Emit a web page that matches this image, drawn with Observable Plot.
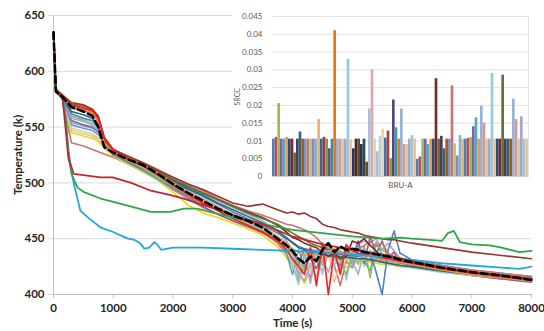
<!DOCTYPE html>
<html><head><meta charset="utf-8">
<script src="https://cdn.jsdelivr.net/npm/d3@7"></script>
<script src="https://cdn.jsdelivr.net/npm/@observablehq/plot@0.6"></script>
<style>
html,body{margin:0;padding:0;background:#fff;}
#wrap{position:relative;width:544px;height:331px;overflow:hidden;background:#fff;}
#inset{position:absolute;left:232px;top:0;width:312px;height:196px;background:#fff;}
</style></head><body>
<div id="wrap"><div id="main"></div><div id="inset"></div></div>
<script>
// ---------- main chart data ----------
const xTicks = [0,1000,2000,3000,4000,5000,6000,7000,8000];
const yTicks = [400,450,500,550,600,650];
const times = [0,40,150,300,500,650,750,850,1000,1250,1500,1750,2000,2250,2500,2750,3000,3250,3500,3750,3900,4000,4100,4200,4300,4400,4500,4600,4700,4800,4900,5000,5100,5200,5300,5400,5500,5600,5700,5800,6000,6500,7000,7500,8000];

const refCase = [635,582,577,568,564,560,550,532,527,521,516,508,499,491,484,477,471,466,460,450,444,439,432,428,434,430,440,446,438,443,440,441,440,438,437,436,435,434,433,431,429,424,420,417,413];
const runBrownTop = [635,584,579,572,570,566,560,540,530,524,518,511,505,499,494,488,482,479,481,476,473,474,472,473,470,468,463,461,460,458,457,456,455,453,452,451,450,449,449,448,446,442,438,435,432];
const runOrange = [634,581,576,568,566,563,556,536,528,522,516,509,500,492,485,478,472,466,460,452,446,441,438,436,434,437,440,439,441,438,437,437,436,435,434,433,432,431,430,429,427,422,418,415,412];
const runRed = [635,583,578,570,567,565,558,540,529,522,515,507,498,490,482,475,468,462,456,448,440,432,425,418,442,408,446,400,440,418,444,440,437,436,435,434,433,432,431,430,428,423,419,416,413];
const runBlue = [634,582,576,562,558,556,550,536,527,521,515,507,500,494,488,481,474,468,462,455,450,447,443,441,440,439,438,437,436,436,435,435,434,436,438,420,400,440,457,437,431,426,422,419,416];
const runGreen = [635,582,577,560,556,553,549,538,526,520,513,505,497,489,482,476,469,463,457,449,443,436,428,421,440,432,426,441,437,430,418,436,427,444,415,446,440,436,434,432,429,425,421,418,415];
const runPurple = [635,583,577,556,552,550,546,536,525,519,512,505,496,488,479,472,466,461,455,448,443,438,427,441,432,423,437,443,435,425,445,432,448,428,452,436,448,433,438,428,426,421,417,414,411];
const runAqua = [635,582,577,552,549,547,543,535,526,518,511,503,495,488,482,476,470,465,459,450,437,418,440,424,441,430,435,444,438,420,441,427,445,430,421,447,436,431,430,429,427,423,420,417,414];
const runSalmon = [635,582,575,536,533,530,528,526,523,517,510,503,494,486,478,472,466,461,456,446,436,425,412,428,415,432,420,438,426,408,430,424,436,430,432,431,430,429,428,427,425,421,418,416,413];
const runLightBlue = [635,582,577,558,555,552,547,537,527,521,516,509,502,496,490,484,478,472,466,457,448,440,415,436,410,437,428,441,434,422,444,430,418,441,433,432,431,429,428,427,425,421,418,416,414];
const runOlive = [634,583,578,571,569,566,559,541,530,523,517,510,503,497,491,485,479,473,468,463,458,455,452,449,446,444,442,440,439,438,437,436,436,435,434,433,432,431,430,429,427,423,420,417,414];
const runLightOrange = [635,582,576,549,546,544,540,532,525,519,513,506,498,490,483,476,470,464,458,450,441,430,422,434,418,440,429,437,411,429,440,437,436,435,434,433,432,431,430,429,427,423,420,417,415];
const runYellow = [635,582,576,545,542,540,537,531,524,517,510,502,492,480,473,469,464,459,453,443,433,425,418,410,422,430,436,434,433,432,431,431,430,430,429,428,427,427,426,425,424,420,417,414,412];
const runTeal = [635,582,577,564,561,558,552,537,528,522,517,510,502,495,489,482,476,470,464,457,451,446,442,440,438,437,436,435,434,434,433,433,432,432,431,430,429,428,427,426,425,421,418,415,412];
const runLavender = [635,582,576,554,551,549,545,535,526,520,514,507,499,492,486,479,471,465,458,449,440,432,420,412,428,415,433,420,437,431,435,434,445,448,446,450,440,446,439,433,430,425,421,418,415];
const runPink = [635,583,578,567,565,562,555,538,528,523,518,512,505,499,493,486,480,475,471,466,463,462,460,458,455,451,445,441,438,437,436,438,441,444,448,443,446,437,434,432,430,426,422,419,416];
const runLightGreen = [635,582,576,547,544,542,539,533,525,519,512,505,497,490,484,478,472,467,461,452,444,437,430,423,433,436,430,440,430,436,424,429,437,425,440,436,434,433,432,430,428,424,421,418,416];
const runLightAqua = [635,582,577,560,557,555,550,537,527,520,514,506,499,492,485,478,471,465,459,451,443,428,409,437,424,440,418,445,425,441,413,438,432,431,431,430,429,428,427,426,424,420,417,415,413];
const runMaroon = [635,583,578,569,567,564,557,539,529,523,517,510,503,497,491,485,479,474,469,462,456,451,449,446,444,442,438,434,437,432,434,448,446,450,444,439,434,432,431,430,428,424,420,417,414];

const cyanTimes = [0,40,150,200,250,300,350,450,600,790,1000,1120,1250,1350,1450,1520,1600,1690,1750,1800,2000,2500,3000,3500,4000,4500,5000,5500,6000,6500,7000,7500,7800,8000];
const cyanValues = [635,582,575,560,530,510,497,475,468,460,456,453,450,449,446,441,442,447,444,440,442,442,441,440,439,438,436,434,431,428,426,424,423,425];
const greenTimes = [0,40,150,200,250,300,400,500,790,1000,1350,1630,1960,2180,2400,2700,3000,3500,4000,4500,5000,5500,5800,6000,6300,6500,6600,6700,6800,7000,7300,7500,7800,8000];
const greenValues = [635,582,576,560,525,508,496,492,486,483,478,474,474,477,477,473,469,463,458,455,452,450,451,450,449,448,455,457,447,445,444,442,438,439];
const redTimes = [0,40,150,200,250,340,500,790,990,1300,1630,1960,2180,2460,2750,3000,3500,4000,4500,5000,5500,6000,6500,7000,7500,8000];
const redValues = [635,582,577,550,522,508,507,505,505,500,493,489,486,481,476,471,463,452,445,440,436,430,424,420,417,414];

const bundleRuns = [
  ["salmon", runSalmon], ["yellow", runYellow], ["lightgreen", runLightGreen], ["lightorange", runLightOrange],
  ["aqua", runAqua], ["lavender", runLavender], ["purple", runPurple], ["lightaqua", runLightAqua],
  ["green", runGreen], ["lightblue", runLightBlue], ["blue", runBlue], ["teal", runTeal],
  ["pink", runPink], ["maroon", runMaroon], ["olive", runOlive], ["orange", runOrange],
  ["brownTop", runBrownTop], ["red", runRed]
];
const outlierRuns = [
  ["cyanOut", cyanTimes, cyanValues], ["greenOut", greenTimes, greenValues], ["redOut", redTimes, redValues]
];
const runNames = ["salmon","yellow","lightgreen","lightorange","aqua","lavender","purple","lightaqua","green","lightblue","blue","teal","pink","maroon","olive","orange","brownTop","red","cyanOut","greenOut","redOut"];
const runColors = ["#C4776C","#F2D411","#C3D69B","#FAC090","#4BACC6","#B3A2C7","#8064A2","#93CDDD","#9BBB59","#95B3D7","#4F81BD","#276A7C","#CD7371","#772C2A","#5F7530","#F79646","#953735","#FF1A1A","#22A9DC","#2EA64C","#C0282D"];

// ---------- inset data ----------
const srccTicks = [0,0.005,0.01,0.015,0.02,0.025,0.03,0.035,0.04,0.045];
const srccValues = [
  0.0105,0.011,0.0205,0.0105,0.0105,0.011,0.0105,0.0105,0.0066,0.0105,0.0125,0.0105,
  0.0105,0.0105,0.0105,0.0105,0.0105,0.016,0.0105,0.011,0.0105,0.0078,0.0105,0.041,
  0.0105,0.0105,0.0105,0.0105,0.033,0.0103,0.0078,0.0105,0.0105,0.009,0.0105,0.004,
  0.019,0.030,0.0105,0.007,0.0113,0.0133,0.0108,0.0128,0.005,0.0215,0.0137,0.0105,
  0.019,0.009,0.009,0.0105,0.0115,0.0105,0.0048,0.0055,0.0105,0.0105,0.009,0.0105,
  0.0105,0.0275,0.0105,0.0113,0.0078,0.0105,0.0105,0.0255,0.0092,0.0058,0.0115,0.0105,
  0.0105,0.0107,0.011,0.014,0.0165,0.0105,0.0198,0.015,0.0105,0.0105,0.029,0.0105,
  0.0105,0.0105,0.0285,0.0105,0.0105,0.0105,0.0218,0.016,0.0105,0.0168,0.0105,0.0105
];
const shadeGroups = {
  base:    ["#4F81BD","#C0504D","#9BBB59","#8064A2","#4BACC6","#F79646"],
  dark:    ["#2C4D75","#772C2A","#5F7530","#4D3B62","#276A7C","#B65708"],
  light:   ["#729ACA","#CD7371","#AFC97A","#9983B5","#6FBDD1","#F9AB6B"],
  dark2:   ["#3A679C","#9F3B38","#7E9D40","#664F83","#358EA6","#F3740B"],
  light2:  ["#95B3D7","#D99694","#C3D69B","#B3A2C7","#93CDDD","#FAC090"],
  darkest: ["#1F3A5F","#5C1F1D","#47582A","#3A2C4A","#1D505E","#8A4106"],
  light3:  ["#A7C0DE","#E0A8A7","#CFDEB0","#C2B5D4","#A8D7E4","#FBCDA6"],
  mid:     ["#4472A8","#A94341","#86A34A","#5A4578","#3E9AB3","#E27D2A"]
};
const groupOrder = ["base","dark","light","dark2","light2","darkest","light3","mid","light2","base","dark","light","base","light2","dark","light2"];
const barPalette = groupOrder.flatMap(g => shadeGroups[g]);

// ---------- build ----------
const lineData = [];
bundleRuns.forEach(([id, vals]) => vals.forEach((v, i) => lineData.push({id, t: times[i], T: v})));
const outlierData = [];
outlierRuns.forEach(([id, ts, vs]) => vs.forEach((v, i) => outlierData.push({id, t: ts[i], T: v})));
const refData = refCase.map((v, i) => ({t: times[i], T: v}));

const mainPlot = Plot.plot({
  width: 544, height: 331,
  marginLeft: 53, marginRight: 13, marginTop: 15, marginBottom: 37,
  style: {fontFamily: "Lato, 'Open Sans', sans-serif", fontSize: "11.5px", fontWeight: "bold", color: "#262626", background: "#fff", overflow: "visible"},
  x: {domain: [0, 8000]},
  y: {domain: [400, 650]},
  color: {domain: runNames, range: runColors},
  marks: [
    Plot.ruleY(yTicks.filter(v => v > 400), {stroke: "#D9D9D9", strokeWidth: 1}),
    Plot.ruleX([0], {stroke: "#BFBFBF"}),
    Plot.ruleY([400], {stroke: "#BFBFBF"}),
    Plot.axisX({ticks: xTicks, tickSize: 4, tickPadding: 5, stroke: "#BFBFBF", tickFormat: d => String(d),
      label: "Time (s)", labelAnchor: "center", labelArrow: "none", labelOffset: 32}),
    Plot.axisY({ticks: yTicks, tickSize: 5, tickPadding: 4, stroke: "#D9D9D9",
      label: "Temperature (k)", labelAnchor: "center", labelArrow: "none", labelOffset: 40}),
    Plot.line(lineData, {x: "t", y: "T", z: "id", stroke: "id", strokeWidth: 1.6, strokeLinejoin: "round"}),
    Plot.line(outlierData, {x: "t", y: "T", z: "id", stroke: "id", strokeWidth: 1.8, strokeLinejoin: "round"}),
    Plot.line(refData, {x: "t", y: "T", stroke: "#000", strokeWidth: 2.6, strokeDasharray: "7,4"})
  ]
});
document.getElementById("main").appendChild(mainPlot);

const barData = srccValues.map((v, i) => ({i, v}));
const fmt = d3.format("~g");
const insetPlot = Plot.plot({
  width: 312, height: 196,
  marginLeft: 40, marginRight: 16, marginTop: 16, marginBottom: 20,
  style: {fontFamily: "Lato, 'Open Sans', sans-serif", fontSize: "8px", color: "#595959", background: "#fff"},
  x: {type: "band", domain: d3.range(srccValues.length), padding: 0, axis: null},
  y: {domain: [0, 0.045], axis: null},
  color: {type: "ordinal", domain: d3.range(srccValues.length), range: barPalette},
  marks: [
    Plot.ruleY(srccTicks.filter(v => v > 0), {stroke: "#E3E3E3"}),
    Plot.frame({anchor: "right", stroke: "#E3E3E3"}),
    Plot.barY(barData, {x: "i", y: "v", fill: "i", inset: 0}),
    Plot.ruleY([0], {stroke: "#D0D0D0"}),
    Plot.axisY({ticks: srccTicks, tickSize: 0, tickPadding: 10, tickFormat: d => d === 0 ? "0" : fmt(d), label: null}),
    Plot.text(["SRCC"], {frameAnchor: "left", dx: -35, dy: 9, rotate: -90, fontSize: 7}),
    Plot.text(["BRU-A"], {frameAnchor: "bottom", dy: 11, fontSize: 8})
  ]
});
document.getElementById("inset").appendChild(insetPlot);
</script>
</body></html>
